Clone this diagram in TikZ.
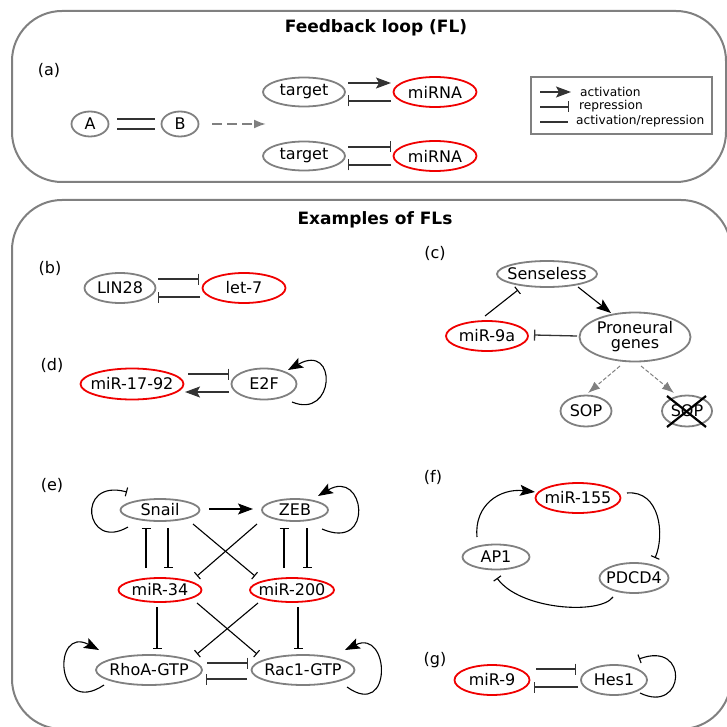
\documentclass[tikz,border=0pt]{standalone}
\usepackage{fontspec}
\setmainfont{DejaVu Sans}
\usetikzlibrary{shapes.geometric,arrows.meta,calc}
\definecolor{gcol}{HTML}{808080}
\definecolor{rcol}{HTML}{F00000}
\definecolor{lcol}{HTML}{333333}
\begin{document}
\begin{tikzpicture}[x=1pt,y=-1pt,font=\fontsize{16}{18}\selectfont,
 gn/.style={ellipse,draw=gcol,line width=1.8pt,inner sep=0pt},
 rn/.style={ellipse,draw=rcol,line width=1.8pt,inner sep=0pt},
 conn/.style={draw=lcol,line width=1.3pt},
 act/.style={conn,-{Stealth[length=15pt,width=11pt,inset=3pt]}},
 rep/.style={conn,-{Bar[width=11pt]}},
 undir/.style={conn},
 thinact/.style={draw=black,line width=1.1pt,-{Stealth[length=15pt,width=11pt,inset=3pt]}},
 thinrep/.style={draw=black,line width=1.1pt,-{Bar[width=9pt]}},
 dasharrA/.style={draw=gcol,line width=2pt,dash pattern=on 10pt off 5pt,-{Latex[length=12pt,width=9pt]}},
 dasharrC/.style={draw=gcol,line width=1pt,dash pattern=on 4pt off 2pt,-{Latex[length=12pt,width=9pt]}},
 panel/.style={draw=gcol,line width=2pt,rounded corners=50pt},
 ttl/.style={font=\fontsize{17}{20}\selectfont\bfseries},
 legtext/.style={font=\fontsize{12.2}{14}\selectfont,anchor=west,inner sep=0pt},
 ]
\useasboundingbox (0,0) rectangle (727,727);

% panels
\draw[panel] (12,11) rectangle (726,182);
\draw[panel] (12,200) rectangle (731,729);
\node[ttl] (title1) at (376,28) {Feedback loop (FL)};
\node[ttl] (title2) at (375,220) {Examples of FLs};

% ---------- (a)
\node (tagA) at (49,70) {(a)};
\node[gn,minimum width=37pt,minimum height=25pt,label=center:A] (A) at (90,124) {};
\node[gn,minimum width=37pt,minimum height=25pt,label=center:B] (B) at (180,124) {};
\draw[undir] ($(A)+(27,-5)$) -- ($(B)+(-25,-5)$);
\draw[undir] ($(A)+(27,5)$) -- ($(B)+(-25,5)$);
\coordinate (dashend) at (266,124);
\draw[dasharrA] ($(B)+(32,0)$) -- (dashend);
\node[gn,minimum width=82pt,minimum height=29pt,label=center:target] (t1) at (304,92) {};
\node[rn,minimum width=83pt,minimum height=30pt,label=center:miRNA] (m1) at (435,92) {};
\node[gn,minimum width=82pt,minimum height=29pt,label=center:target] (t2) at (304,156) {};
\node[rn,minimum width=83pt,minimum height=30pt,label=center:miRNA] (m2) at (435,156) {};
\draw[act] ($(t1)+(44,-9)$) -- ($(m1)+(-44,-9)$);
\draw[rep] ($(m1)+(-44,9)$) -- ($(t1)+(44,9)$);
\draw[rep] ($(t2)+(44,-9)$) -- ($(m2)+(-44,-9)$);
\draw[rep] ($(m2)+(-44,9)$) -- ($(t2)+(44,9)$);

% legend
\draw[draw=gcol,line width=1.2pt] (531,77) rectangle (712,134);
\coordinate (lg1a) at (540,92); \coordinate (lg1b) at (571,92);
\coordinate (lg2a) at (540,107); \coordinate (lg2b) at (569,107);
\coordinate (lg3a) at (540,122); \coordinate (lg3b) at (568,122);
\draw[act] (lg1a) -- (lg1b);
\draw[rep] (lg2a) -- (lg2b);
\draw[undir] (lg3a) -- (lg3b);
\node[legtext] (lgt1) at (580,92) {activation};
\node[legtext] (lgt2) at (579,106) {repression};
\node[legtext] (lgt3) at (576,121) {activation/repression};

% ---------- (b)
\node (tagB) at (50,268) {(b)};
\node[gn,minimum width=71pt,minimum height=30pt,label=center:LIN28] (lin) at (120,288) {};
\node[rn,minimum width=83pt,minimum height=30pt,label=center:let-7] (let) at (244,288) {};
\draw[rep] ($(lin)+(38,-9)$) -- ($(let)+(-45,-9)$);
\draw[rep] ($(let)+(-44,9)$) -- ($(lin)+(38,9)$);

% ---------- (d)
\node (tagD) at (52,365) {(d)};
\node[rn,minimum width=103pt,minimum height=31pt,label=center:miR-17-92] (m1792) at (132,384) {};
\node[gn,minimum width=65pt,minimum height=31pt,label=center:E2F] (e2f) at (264,384) {};
\draw[rep] ($(m1792)+(56,-10)$) -- ($(e2f)+(-35,-10)$);
\draw[act] ($(e2f)+(-35,8)$) -- ($(m1792)+(53,8)$);
\draw[thinact] ($(e2f)+(28,18)$) .. controls ($(e2f)+(71,36)$) and ($(e2f)+(74,-42)$) .. ($(e2f)+(24,-14)$);

% ---------- (c)
\node (tagC) at (435,253) {(c)};
\node[gn,minimum width=100pt,minimum height=26pt,label=center:Senseless] (sens) at (547,274) {};
\node[rn,minimum width=82pt,minimum height=30pt,label=center:miR-9a] (mir9a) at (487,336) {};
\node[gn,minimum width=111pt,minimum height=49pt,label={[align=center,font=\fontsize{16}{15}\selectfont]center:{Proneural\\genes}}] (pron) at (635,337) {};
\node[gn,minimum width=51pt,minimum height=31pt,label=center:SOP] (sop1) at (586,411) {};
\node[gn,minimum width=50pt,minimum height=31pt,label=center:SOP] (sop2) at (687,411) {};
\draw[thinact] ($(sens)+(31,13)$) -- ($(pron)+(-24,-24)$);
\draw[thinrep] ($(mir9a)+(-2,-20)$) -- ($(sens)+(-29,16)$);
\draw[rep] ($(pron)+(-58,-1)$) -- ($(mir9a)+(47,-1)$);
\draw[dasharrC] ($(pron)+(-15,29)$) -- ($(sop1)+(2,-18)$);
\draw[dasharrC] ($(pron)+(6,29)$) -- ($(sop2)+(-13,-18)$);
\draw[line width=2.2pt] ($(sop2)+(-20,-15)$) -- ($(sop2)+(19,16)$);
\draw[line width=2.2pt] ($(sop2)+(19,-15)$) -- ($(sop2)+(-20,16)$);

% ---------- (e)
\node (tagE) at (52,485) {(e)};
\node[gn,minimum width=79pt,minimum height=22pt,label=center:Snail] (snail) at (160,510) {};
\node[gn,minimum width=66pt,minimum height=22pt,label=center:ZEB] (zeb) at (295,510) {};
\node[rn,minimum width=83pt,minimum height=24pt,label=center:miR-34] (mir34) at (160,590) {};
\node[rn,minimum width=84pt,minimum height=24pt,label=center:miR-200] (mir200) at (292,590) {};
\node[gn,minimum width=106pt,minimum height=30pt,label=center:RhoA-GTP] (rhoa) at (149,670) {};
\node[gn,minimum width=103pt,minimum height=30pt,label=center:Rac1-GTP] (rac1) at (303,670) {};
\draw[thinact] ($(snail)+(49,-1)$) -- ($(zeb)+(-42,-1)$);
\draw[thinrep] ($(snail)+(-32,17)$) .. controls ($(snail)+(-75,42)$) and ($(snail)+(-85,-32)$) .. ($(snail)+(-33,-18)$);
\draw[thinact] ($(zeb)+(27,19)$) .. controls ($(zeb)+(80,42)$) and ($(zeb)+(70,-42)$) .. ($(zeb)+(23,-14)$);
\draw[thinrep] ($(mir34)+(-14,-22)$) -- ($(snail)+(-14,18)$);
\draw[thinrep] ($(snail)+(8,18)$) -- ($(mir34)+(8,-22)$);
\draw[thinrep] ($(mir200)+(-8,-22)$) -- ($(zeb)+(-11,18)$);
\draw[thinrep] ($(zeb)+(12,18)$) -- ($(mir200)+(15,-22)$);
\draw[thinrep] ($(snail)+(33,14)$) -- ($(mir200)+(-37,-14)$);
\draw[thinrep] ($(zeb)+(-38,14)$) -- ($(mir34)+(37,-14)$);
\draw[thinrep] ($(mir34)+(-3,17)$) -- ($(rhoa)+(8,-21)$);
\draw[thinrep] ($(mir200)+(6,17)$) -- ($(rac1)+(-5,-21)$);
\draw[thinrep] ($(mir34)+(37,13)$) -- ($(rac1)+(-46,-16)$);
\draw[thinrep] ($(mir200)+(-34,13)$) -- ($(rhoa)+(48,-16)$);
\draw[rep] ($(rhoa)+(58,-7)$) -- ($(rac1)+(-55,-7)$);
\draw[rep] ($(rac1)+(-56,9)$) -- ($(rhoa)+(57,9)$);
\draw[thinact] ($(rhoa)+(-45,15)$) .. controls ($(rhoa)+(-94,48)$) and ($(rhoa)+(-97,-45)$) .. ($(rhoa)+(-50,-20)$);
\draw[thinact] ($(rac1)+(44,17)$) .. controls ($(rac1)+(90,50)$) and ($(rac1)+(87,-42)$) .. ($(rac1)+(42,-20)$);

% ---------- (f)
\node (tagF) at (433,477) {(f)};
\node[rn,minimum width=85pt,minimum height=30pt,label=center:miR-155] (m155) at (578,498) {};
\node[gn,minimum width=67pt,minimum height=25pt,label=center:AP1] (ap1) at (496,557) {};
\node[gn,minimum width=69pt,minimum height=30pt,label=center:PDCD4] (pdcd4) at (634,578) {};
\draw[thinact] ($(ap1)+(-19,-20)$) .. controls ($(ap1)+(-22,-52)$) and ($(m155)+(-78,-10)$) .. ($(m155)+(-43,-6)$);
\draw[thinrep] ($(m155)+(49,-5)$) .. controls ($(m155)+(82,-8)$) and ($(pdcd4)+(31,-43)$) .. ($(pdcd4)+(21,-20)$);
\draw[thinrep] ($(pdcd4)+(-21,19)$) .. controls ($(pdcd4)+(-34,37)$) and ($(ap1)+(24,53)$) .. ($(ap1)+(1,21)$);

% ---------- (g)
\node (tagG) at (435,660) {(g)};
\node[rn,minimum width=75pt,minimum height=30pt,label=center:miR-9] (mir9) at (492,680) {};
\node[gn,minimum width=66pt,minimum height=30pt,label=center:Hes1] (hes1) at (614,680) {};
\draw[rep] ($(mir9)+(44,-11)$) -- ($(hes1)+(-38,-11)$);
\draw[rep] ($(hes1)+(-36,7)$) -- ($(mir9)+(42,7)$);
\draw[thinrep] ($(hes1)+(26,13)$) .. controls ($(hes1)+(71,35)$) and ($(hes1)+(76,-40)$) .. ($(hes1)+(25,-21)$);
\end{tikzpicture}
\end{document}
